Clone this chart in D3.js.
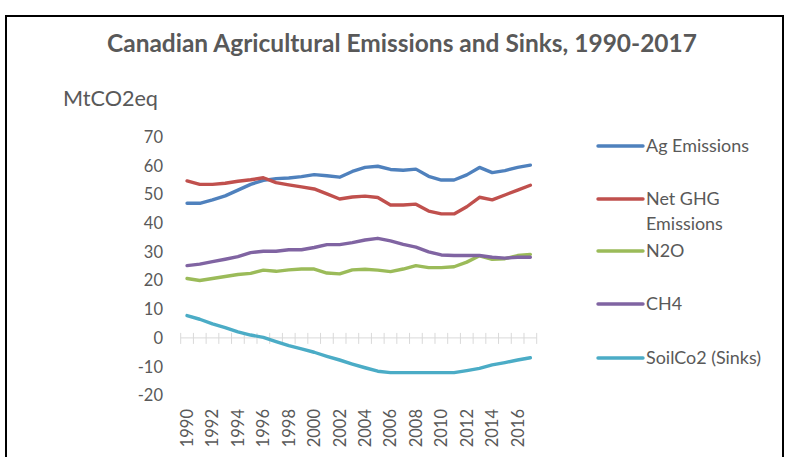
<!DOCTYPE html>
<html>
<head>
<meta charset="utf-8">
<script src="https://cdn.jsdelivr.net/npm/d3@7"></script>
<style>
  html, body { margin: 0; padding: 0; background: #fff; }
  svg { display: block; }
  text { font-family: Lato, "Open Sans", sans-serif; fill: #595959; }
</style>
</head>
<body>
<svg id="chart" width="786" height="457"></svg>
<script>
// Canadian agricultural emissions and sinks, MtCO2eq
const years = [1990, 1991, 1992, 1993, 1994, 1995, 1996, 1997, 1998, 1999,
               2000, 2001, 2002, 2003, 2004, 2005, 2006, 2007, 2008, 2009,
               2010, 2011, 2012, 2013, 2014, 2015, 2016, 2017];

const agEmissions = [46.9, 46.9, 48.1, 49.5, 51.5, 53.5, 54.9, 55.5, 55.7, 56.2,
                     56.9, 56.5, 56.0, 58.0, 59.4, 59.8, 58.7, 58.4, 58.8, 56.3,
                     55.0, 55.0, 56.8, 59.4, 57.6, 58.3, 59.4, 60.2];
const netGhg      = [54.7, 53.5, 53.5, 53.9, 54.6, 55.1, 55.8, 54.1, 53.3, 52.6,
                     51.9, 50.2, 48.4, 49.1, 49.4, 48.9, 46.3, 46.3, 46.6, 44.2,
                     43.2, 43.2, 45.7, 49.0, 48.1, 49.8, 51.5, 53.2];
const n2o         = [20.7, 20.0, 20.7, 21.4, 22.1, 22.5, 23.6, 23.2, 23.7, 24.0,
                     24.0, 22.6, 22.3, 23.7, 23.9, 23.6, 23.1, 24.0, 25.2, 24.5,
                     24.5, 24.8, 26.4, 28.6, 27.4, 27.6, 28.7, 29.1];
const ch4         = [25.2, 25.7, 26.6, 27.4, 28.3, 29.7, 30.2, 30.2, 30.7, 30.7,
                     31.5, 32.5, 32.5, 33.2, 34.1, 34.7, 33.8, 32.6, 31.6, 30.0,
                     28.9, 28.7, 28.7, 28.7, 28.1, 27.8, 28.1, 28.1];
const soilCo2     = [7.8, 6.5, 4.9, 3.6, 2.1, 1.0, 0.2, -1.3, -2.7, -3.8,
                     -5.0, -6.4, -7.7, -9.1, -10.4, -11.6, -12.1, -12.1, -12.1, -12.1,
                     -12.1, -12.1, -11.4, -10.6, -9.4, -8.6, -7.7, -6.9];

const seriesNames  = ["Ag Emissions", "Net GHG\nEmissions", "N2O", "CH4", "SoilCo2 (Sinks)"];
const seriesColors = ["#4F81BD", "#C0504D", "#9BBB59", "#8064A2", "#4BACC6"];
const seriesValues = [agEmissions, netGhg, n2o, ch4, soilCo2];
const yTicks = [-20, -10, 0, 10, 20, 30, 40, 50, 60, 70];
const xLabelYears = years.filter((d, i) => i % 2 === 0);

const svg = d3.select("#chart");

// outer frame
svg.append("rect")
  .attr("x", 6).attr("y", 16)
  .attr("width", 777).attr("height", 460)
  .attr("fill", "none").attr("stroke", "#000").attr("stroke-width", 2);

// scales
const x = d3.scaleBand().domain(years).range([180.7, 536.7]);
const cx = d => x(d) + x.bandwidth() / 2;
const y = d3.scaleLinear().domain([-20, 70]).range([395.3, 137]);

// fit a text node to a target width by adjusting font size
function fitWidth(sel, w) {
  const node = sel.node();
  const fs = parseFloat(sel.attr("font-size"));
  const len = node.getComputedTextLength();
  const size = fs * w / len;
  sel.attr("font-size", size.toFixed(2));
  return size;
}

// title
const title = svg.append("text")
  .attr("x", 402).attr("y", 52)
  .attr("text-anchor", "middle")
  .attr("font-size", 20).attr("font-weight", "bold")
  .text("Canadian Agricultural Emissions and Sinks, 1990-2017");
fitWidth(title, 590);

// unit label
const unit = svg.append("text")
  .attr("x", 63).attr("y", 106)
  .attr("font-size", 17)
  .text("MtCO2eq");
fitWidth(unit, 95);

// y tick labels
svg.append("g").selectAll("text")
  .data(yTicks)
  .join("text")
  .attr("x", 163)
  .attr("y", d => y(d))
  .attr("dy", "0.36em")
  .attr("text-anchor", "end")
  .attr("font-size", 16.5)
  .text(d => d);

// category axis along zero
const axis = svg.append("g").attr("stroke", "#d9d9d9").attr("stroke-width", 1);
axis.append("line")
  .attr("x1", x.range()[0]).attr("x2", x.range()[1])
  .attr("y1", y(0)).attr("y2", y(0));
axis.selectAll("line.tick")
  .data(years.concat([null]))
  .join("line")
  .attr("class", "tick")
  .attr("x1", (d, i) => x.range()[0] + i * x.step())
  .attr("x2", (d, i) => x.range()[0] + i * x.step())
  .attr("y1", y(0) - 5).attr("y2", y(0) + 6);

// rotated year labels
svg.append("g").selectAll("text")
  .data(xLabelYears)
  .join("text")
  .attr("transform", d => `translate(${cx(d)},409) rotate(-90)`)
  .attr("dy", "0.36em")
  .attr("text-anchor", "end")
  .attr("font-size", 16.5)
  .text(d => d);

// series lines
const line = d3.line()
  .x((v, i) => cx(years[i]))
  .y(v => y(v));

svg.append("g").selectAll("path")
  .data(seriesValues)
  .join("path")
  .attr("d", d => line(d))
  .attr("fill", "none")
  .attr("stroke", (d, i) => seriesColors[i])
  .attr("stroke-width", 3.4)
  .attr("stroke-linejoin", "round")
  .attr("stroke-linecap", "round");

// legend
const legendY = [146, 199, 251, 304, 358];
const legend = svg.append("g");
const probe = legend.append("text").attr("font-size", 16).text("Ag Emissions");
const legendSize = fitWidth(probe, 103);
probe.remove();
seriesNames.forEach((name, i) => {
  legend.append("line")
    .attr("x1", 598).attr("x2", 643)
    .attr("y1", legendY[i]).attr("y2", legendY[i])
    .attr("stroke", seriesColors[i]).attr("stroke-width", 3.4)
    .attr("stroke-linecap", "round");
  const t = legend.append("text")
    .attr("x", 646).attr("y", legendY[i])
    .attr("font-size", legendSize.toFixed(2));
  name.split("\n").forEach((part, j) => {
    t.append("tspan").attr("x", 646).attr("dy", j === 0 ? "0.36em" : "1.35em").text(part);
  });
});
</script>
</body>
</html>
